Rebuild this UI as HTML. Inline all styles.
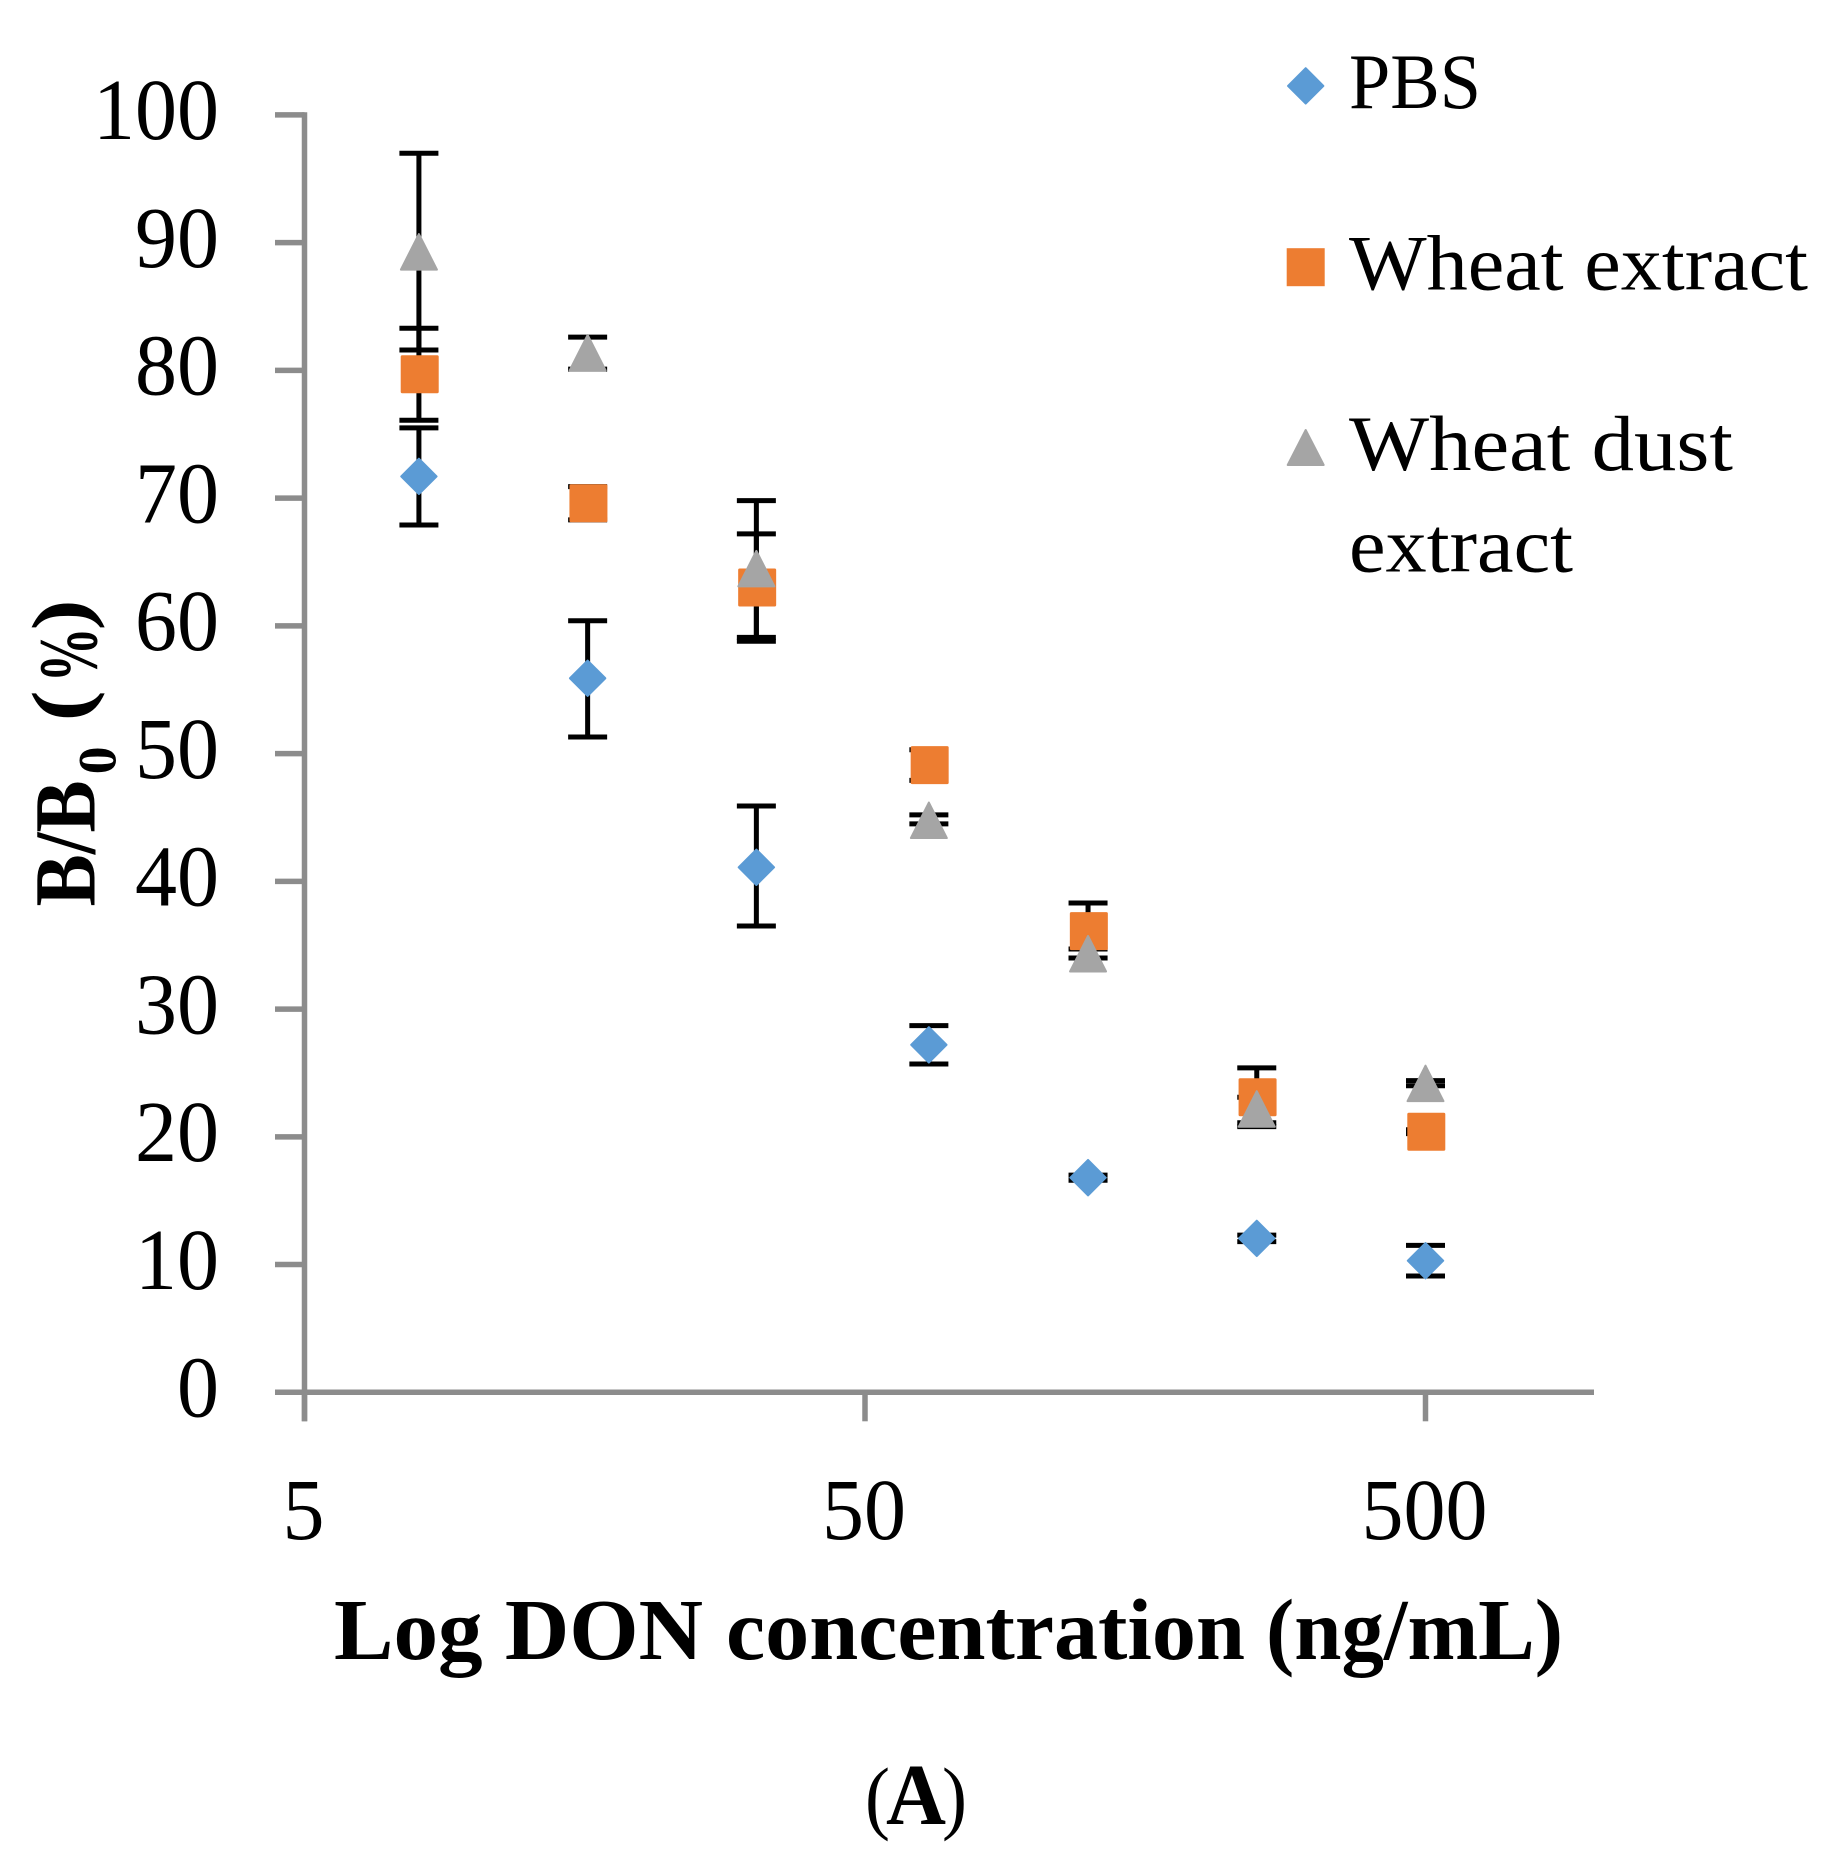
<!DOCTYPE html>
<html lang="en">
<head>
<meta charset="utf-8">
<title>B/B0 vs Log DON concentration</title>
<style>
  html, body { margin: 0; padding: 0; background: #ffffff; }
  svg { display: block; }
  text { font-family: "Liberation Serif", serif; fill: #000000; }
  .tick { font-size: 87px; }
  .legend { font-size: 78px; }
  .title { font-size: 87px; font-weight: bold; }
</style>
</head>
<body>
<svg id="chart" xmlns="http://www.w3.org/2000/svg" width="1828" height="1858" viewBox="0 0 1828 1858">
  <rect x="0" y="0" width="1828" height="1858" fill="#ffffff"/>
  <g id="axes"></g>
  <g id="errors"></g>
  <g id="markers"></g>

  <g>
    <polygon points="1305.7,68.2 1323.4,85.9 1305.7,103.6 1288,85.9" fill="#5B9BD5" stroke="#5B9BD5" stroke-width="2" stroke-linejoin="round"/>
    <text class="legend" x="1349" y="107.8" textLength="132" lengthAdjust="spacingAndGlyphs">PBS</text>
    <rect x="1286.7" y="248.2" width="38" height="38" fill="#ED7D31"/>
    <text class="legend" x="1349" y="289.5" textLength="459" lengthAdjust="spacingAndGlyphs">Wheat extract</text>
    <polygon points="1305.7,430 1323.7,465 1287.7,465" fill="#A5A5A5" stroke="#A5A5A5" stroke-width="2" stroke-linejoin="round"/>
    <text class="legend" x="1349" y="470" textLength="384" lengthAdjust="spacingAndGlyphs">Wheat dust</text>
    <text class="legend" x="1349" y="571.5" textLength="224" lengthAdjust="spacingAndGlyphs">extract</text>
  </g>

  <g transform="translate(94.4 906.4) rotate(-90)">
    <text class="title" x="0" y="0" textLength="126" lengthAdjust="spacingAndGlyphs">B/B</text>
    <text x="132" y="21" font-size="54" font-weight="bold" textLength="28" lengthAdjust="spacingAndGlyphs">0</text>
    <text class="title"><tspan x="185" y="-7" font-size="80" textLength="31" lengthAdjust="spacingAndGlyphs">(</tspan><tspan x="224" y="2" font-size="84" textLength="55" lengthAdjust="spacingAndGlyphs">%</tspan><tspan x="276" y="-7" font-size="80" textLength="31" lengthAdjust="spacingAndGlyphs">)</tspan></text>
  </g>
  <text class="title" y="1659"><tspan x="334" textLength="369" lengthAdjust="spacingAndGlyphs">Log DON</tspan> <tspan x="726" textLength="519" lengthAdjust="spacingAndGlyphs">concentration</tspan> <tspan x="1266" textLength="297" lengthAdjust="spacingAndGlyphs">(ng/mL)</tspan></text>
  <text y="1824" font-size="82"><tspan x="865" font-weight="normal" textLength="25" lengthAdjust="spacingAndGlyphs">(</tspan><tspan x="886" font-size="87" font-weight="bold" textLength="60" lengthAdjust="spacingAndGlyphs">A</tspan><tspan x="942" font-weight="normal" textLength="25" lengthAdjust="spacingAndGlyphs">)</tspan></text>
</svg>

<script>
// Chart data
const concentrations = [8, 16, 32, 65, 125, 250, 500];
const yTickLabels = ["0", "10", "20", "30", "40", "50", "60", "70", "80", "90", "100"];
const xTickLabels = ["5", "50", "500"];

const pbsValues  = [71.7, 55.9, 41.1, 27.2, 16.8, 12.05, 10.3];
const pbsUpper   = [75.5, 60.4, 45.9, 28.7, 17.0, 12.3, 11.5];
const pbsLower   = [67.9, 51.3, 36.5, 25.7, 16.6, 11.8, 9.1];

const wheatValues = [79.7, 69.6, 63.0, 49.1, 36.1, 23.1, 20.4];
const wheatUpper  = [83.3, 70.9, 67.2, 50.3, 38.3, 25.4, 20.55];
const wheatLower  = [76.1, 68.3, 58.8, 47.9, 34.0, 20.8, 20.25];

const dustValues = [89.3, 81.4, 64.5, 44.8, 34.35, 22.2, 24.2];
const dustUpper  = [97.0, 82.6, 69.8, 45.2, 34.7, 23.1, 24.4];
const dustLower  = [81.6, 80.1, 59.1, 44.5, 34.0, 21.1, 24.0];

// Axis functions
function xScale(v) { return 304.5 + 560.5 * Math.log10(v / 5); }
function yScale(v) { return 1392.3 - 12.774 * v; }

const NS = "http://www.w3.org/2000/svg";
const axesGroup = document.getElementById("axes");
const errorsGroup = document.getElementById("errors");
const markersGroup = document.getElementById("markers");
const AXIS_COLOR = "#8C8C8C";
const AXIS_WIDTH = 5.5;
const MARKER_HALF = 19;

function addLine(parent, x1, y1, x2, y2, stroke, width) {
  const el = document.createElementNS(NS, "line");
  el.setAttribute("x1", x1);
  el.setAttribute("y1", y1);
  el.setAttribute("x2", x2);
  el.setAttribute("y2", y2);
  el.setAttribute("stroke", stroke);
  el.setAttribute("stroke-width", width);
  parent.appendChild(el);
  return el;
}

// Axis lines
const yAxisLine = addLine(axesGroup, xScale(5), yScale(100) - 2.7, xScale(5), yScale(0) + 29, AXIS_COLOR, AXIS_WIDTH);


const xAxisLine = addLine(axesGroup, 275, yScale(0), 1594, yScale(0), AXIS_COLOR, AXIS_WIDTH);



// Y ticks and labels
yTickLabels.forEach(function (label) {
  const value = Number(label);
  const tick = addLine(axesGroup, 275, yScale(value), xScale(5), yScale(value), AXIS_COLOR, AXIS_WIDTH);
  
  
  const text = document.createElementNS(NS, "text");
  text.setAttribute("class", "tick");
  text.setAttribute("x", 219);
  text.setAttribute("y", yScale(value) + 24.3);
  text.setAttribute("text-anchor", "end");
  text.setAttribute("textLength", label.length * 42);
  text.setAttribute("lengthAdjust", "spacingAndGlyphs");
  
  
  text.textContent = label;
  axesGroup.appendChild(text);
});

// X ticks and labels
xTickLabels.forEach(function (label) {
  const value = Number(label);
  const tick = addLine(axesGroup, xScale(value), yScale(0), xScale(value), yScale(0) + 29, AXIS_COLOR, AXIS_WIDTH);
  
  
  const text = document.createElementNS(NS, "text");
  text.setAttribute("class", "tick");
  text.setAttribute("x", xScale(value) - 1);
  text.setAttribute("y", 1539.2);
  text.setAttribute("text-anchor", "middle");
  text.setAttribute("textLength", label.length * 42);
  text.setAttribute("lengthAdjust", "spacingAndGlyphs");
  
  
  text.textContent = label;
  axesGroup.appendChild(text);
});

// Error bars
function drawErrors(key, upper, lower) {
  concentrations.forEach(function (c, i) {
    const x = xScale(c);
    const stem = addLine(errorsGroup, x, yScale(upper[i]), x, yScale(lower[i]), "#000000", 5);
    
    
    const capTop = addLine(errorsGroup, x - 19.5, yScale(upper[i]), x + 19.5, yScale(upper[i]), "#000000", 5);
    
    
    const capBottom = addLine(errorsGroup, x - 19.5, yScale(lower[i]), x + 19.5, yScale(lower[i]), "#000000", 5);
    
    
  });
}
drawErrors("pbs", pbsUpper, pbsLower);
drawErrors("wheat", wheatUpper, wheatLower);
drawErrors("wheat-dust", dustUpper, dustLower);

// Markers (stroke with round joins softens the corners like the original)
const h = MARKER_HALF;
pbsValues.forEach(function (v, i) {
  const x = xScale(concentrations[i]);
  const y = yScale(v);
  const d = h - 1.3;
  const el = document.createElementNS(NS, "polygon");
  el.setAttribute("points", [x, y - d, x + d, y, x, y + d, x - d, y].join(" "));
  el.setAttribute("fill", "#5B9BD5");
  el.setAttribute("stroke", "#5B9BD5");
  el.setAttribute("stroke-width", 2);
  el.setAttribute("stroke-linejoin", "round");
  
  
  markersGroup.appendChild(el);
});
wheatValues.forEach(function (v, i) {
  const x = xScale(concentrations[i]);
  const y = yScale(v);
  const el = document.createElementNS(NS, "rect");
  el.setAttribute("x", x - h + 0.8);
  el.setAttribute("y", y - h);
  el.setAttribute("width", 2 * h);
  el.setAttribute("height", 2 * h);
  el.setAttribute("rx", 1.5);
  el.setAttribute("fill", "#ED7D31");
  
  
  markersGroup.appendChild(el);
});
dustValues.forEach(function (v, i) {
  const x = xScale(concentrations[i]);
  const y = yScale(v);
  const el = document.createElementNS(NS, "polygon");
  el.setAttribute("points", [x, y - h + 1.5, x + h - 1, y + h - 1, x - h + 1, y + h - 1].join(" "));
  el.setAttribute("fill", "#A5A5A5");
  el.setAttribute("stroke", "#A5A5A5");
  el.setAttribute("stroke-width", 2);
  el.setAttribute("stroke-linejoin", "round");
  
  
  markersGroup.appendChild(el);
});
</script>
</body>
</html>
